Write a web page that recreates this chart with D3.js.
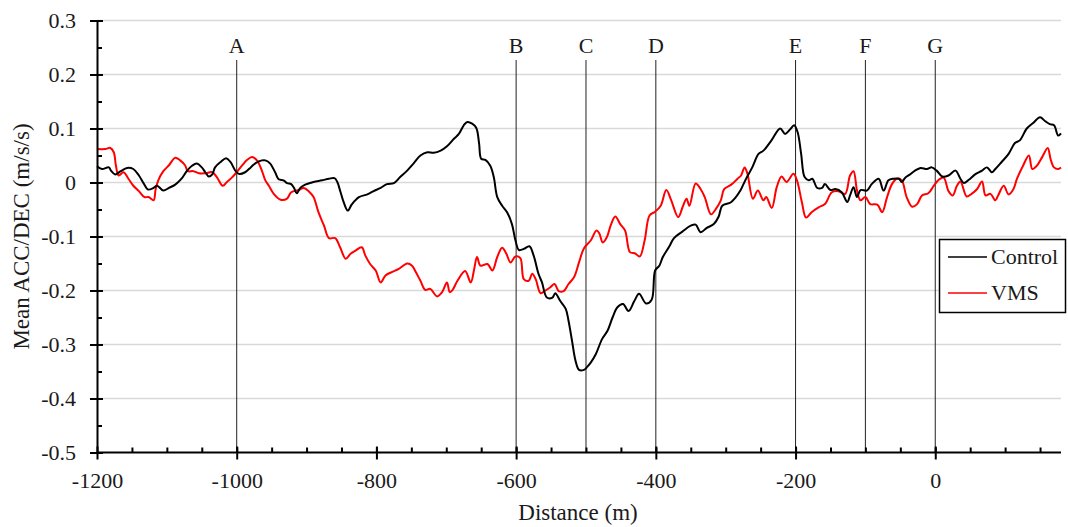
<!DOCTYPE html>
<html>
<head>
<meta charset="utf-8">
<script src="https://cdn.jsdelivr.net/npm/d3@7"></script>
<style>
  html, body { margin: 0; padding: 0; background: #fff; }
  svg text { font-family: "Liberation Serif", "Times New Roman", serif; fill: #1a1a1a; }
</style>
</head>
<body>
<svg id="chart" width="1068" height="527"></svg>
<script>
// ---------------- DATA ----------------
const controlDist = [-1200,-1193,-1183,-1180,-1174,-1166,-1157,-1148,-1140,-1133,-1127,-1119,-1114,-1105,-1097,-1088,-1079,-1071,-1064,-1057,-1050,-1045,-1040,-1035,-1031,-1023,-1015,-1009,-1002,-997,-988,-980,-973,-964,-959,-952,-945,-940,-933,-928,-922,-918,-914,-909,-902,-890,-878,-868,-860,-856,-852,-847,-841,-835,-825,-813,-804,-794,-785,-775,-766,-756,-747,-737,-727,-718,-708,-699,-689,-682,-675,-670,-663,-657,-653,-650,-644,-637,-632,-627,-620,-613,-606,-601,-596,-589,-581,-575,-568,-563,-556,-548,-544,-537,-529,-525,-520,-515,-510,-503,-498,-493,-486,-477,-469,-462,-455,-447,-439,-431,-424,-414,-406,-401,-395,-390,-381,-374,-362,-350,-343,-336,-327,-317,-310,-305,-293,-286,-279,-272,-262,-253,-246,-234,-222,-215,-208,-202,-197,-192,-187,-181,-176,-169,-162,-158,-150,-143,-134,-126,-122,-117,-112,-107,-98,-91,-81,-74,-67,-60,-52,-48,-43,-36,-29,-21,-12,-5,2,10,19,29,36,41,48,57,67,74,81,86,95,105,114,121,131,140,150,157,164,170,176,180];
const controlVal = [0.030,0.025,0.028,0.022,0.015,0.021,0.027,0.025,0.013,-0.002,-0.013,-0.010,-0.006,-0.015,-0.010,-0.004,0.007,0.022,0.031,0.035,0.028,0.019,0.011,0.015,0.028,0.038,0.045,0.038,0.022,0.016,0.019,0.028,0.036,0.041,0.041,0.035,0.019,0.006,0.004,-0.001,-0.003,-0.010,-0.020,-0.010,-0.004,0.001,0.004,0.007,0.008,0.001,-0.015,-0.036,-0.052,-0.040,-0.027,-0.022,-0.016,-0.010,-0.003,-0.001,0.010,0.022,0.035,0.050,0.056,0.055,0.059,0.067,0.081,0.090,0.106,0.112,0.109,0.101,0.072,0.044,0.042,0.031,0.010,-0.027,-0.043,-0.055,-0.077,-0.107,-0.125,-0.123,-0.118,-0.135,-0.169,-0.185,-0.213,-0.213,-0.205,-0.219,-0.234,-0.256,-0.293,-0.330,-0.347,-0.347,-0.341,-0.333,-0.318,-0.290,-0.274,-0.250,-0.231,-0.225,-0.238,-0.220,-0.206,-0.224,-0.217,-0.163,-0.154,-0.138,-0.119,-0.103,-0.091,-0.080,-0.078,-0.092,-0.084,-0.077,-0.063,-0.043,-0.037,-0.028,-0.015,0.004,0.028,0.053,0.059,0.079,0.100,0.090,0.098,0.106,0.093,0.053,0.010,0.004,0.007,-0.010,-0.010,-0.003,-0.014,-0.012,-0.018,-0.036,-0.024,-0.009,-0.027,-0.014,-0.015,-0.003,0.007,-0.015,0.004,0.007,0.007,0.001,0.009,0.015,0.022,0.027,0.025,0.028,0.022,0.011,0.013,0.022,0.007,-0.001,0.005,0.015,0.022,0.028,0.019,0.025,0.038,0.053,0.073,0.078,0.100,0.110,0.121,0.114,0.108,0.106,0.087,0.091];

const vmsDist = [-1200,-1188,-1181,-1176,-1173,-1169,-1162,-1155,-1148,-1140,-1132,-1126,-1119,-1116,-1112,-1105,-1097,-1088,-1081,-1074,-1070,-1062,-1054,-1045,-1035,-1028,-1020,-1014,-1007,-1000,-992,-985,-978,-971,-964,-959,-954,-947,-937,-928,-922,-911,-904,-897,-890,-883,-875,-868,-859,-852,-844,-837,-830,-821,-816,-809,-801,-794,-787,-778,-768,-756,-749,-744,-737,-730,-723,-713,-706,-699,-695,-691,-684,-673,-665,-660,-656,-651,-641,-634,-627,-620,-614,-608,-601,-594,-589,-582,-577,-572,-565,-558,-551,-545,-539,-532,-525,-517,-510,-503,-493,-485,-481,-476,-470,-464,-458,-451,-444,-437,-430,-423,-416,-409,-401,-393,-385,-378,-368,-361,-356,-352,-343,-336,-330,-321,-314,-307,-302,-292,-283,-278,-273,-269,-261,-254,-246,-242,-234,-227,-220,-213,-203,-198,-191,-185,-177,-167,-158,-148,-139,-129,-122,-117,-112,-107,-100,-93,-83,-76,-69,-62,-55,-48,-41,-33,-26,-19,-10,-2,5,12,19,25,31,36,45,52,60,67,72,79,86,90,98,105,112,117,126,134,139,146,153,161,165,170,176,180];
const vmsVal = [0.062,0.062,0.064,0.056,0.032,0.013,0.019,0.007,-0.006,-0.016,-0.027,-0.027,-0.033,-0.012,0.005,0.021,0.032,0.046,0.041,0.032,0.021,0.021,0.017,0.017,0.019,0.009,-0.006,0.001,0.009,0.019,0.032,0.042,0.047,0.041,0.022,0.004,-0.006,-0.021,-0.032,-0.030,-0.018,-0.014,-0.010,-0.016,-0.027,-0.055,-0.080,-0.103,-0.103,-0.120,-0.141,-0.132,-0.126,-0.120,-0.135,-0.151,-0.163,-0.185,-0.172,-0.166,-0.160,-0.150,-0.154,-0.165,-0.182,-0.199,-0.197,-0.211,-0.203,-0.185,-0.203,-0.199,-0.182,-0.164,-0.185,-0.160,-0.138,-0.154,-0.151,-0.163,-0.138,-0.121,-0.132,-0.148,-0.137,-0.140,-0.179,-0.182,-0.169,-0.179,-0.205,-0.200,-0.194,-0.188,-0.201,-0.201,-0.188,-0.175,-0.148,-0.122,-0.107,-0.089,-0.094,-0.111,-0.101,-0.077,-0.063,-0.077,-0.089,-0.129,-0.131,-0.137,-0.107,-0.061,-0.054,-0.043,-0.014,-0.033,-0.064,-0.043,-0.030,-0.043,-0.002,-0.012,-0.027,-0.059,-0.049,-0.033,-0.012,-0.004,0.007,0.013,0.028,0.017,-0.030,-0.015,-0.033,-0.027,-0.047,-0.009,0.011,0.001,0.016,0.004,-0.036,-0.065,-0.055,-0.046,-0.040,-0.018,-0.016,-0.021,0.013,0.021,-0.015,-0.033,-0.027,-0.040,-0.041,-0.055,-0.027,-0.003,0.007,0.004,-0.027,-0.045,-0.040,-0.024,-0.020,-0.006,0.005,0.009,-0.016,-0.024,-0.006,0.002,-0.026,-0.021,-0.012,0.002,-0.024,-0.021,-0.033,-0.024,-0.006,-0.022,-0.012,0.007,0.032,0.050,0.025,0.032,0.047,0.064,0.044,0.028,0.025,0.028];

const seriesNames = ["Control", "VMS"];
const seriesColors = ["#000000", "#ff0000"];

const markerLabels = ["A", "B", "C", "D", "E", "F", "G"];
const markerDist = [-1000, -600, -500, -400, -200, -100, 0];

const xTicks = [-1200, -1000, -800, -600, -400, -200, 0];
const xMinorTicks = [-1150,-1100,-1050,-1000,-950,-900,-850,-800,-750,-700,-650,-600,-550,-500,-450,-400,-350,-300,-250,-200,-150,-100,-50,0,50,100,150];
const yTicks = [0.3, 0.2, 0.1, 0, -0.1, -0.2, -0.3, -0.4, -0.5];
const yMinorTicks = [0.25, 0.15, 0.05, -0.05, -0.15, -0.25, -0.35, -0.45];

const xTitle = "Distance (m)";
const yTitle = "Mean ACC/DEC (m/s/s)";

// ---------------- LAYOUT ----------------
const plotLeft = 97, plotRight = 1061, plotTop = 20.5, plotBottom = 452.5;
const FONT = "Liberation Serif, Times New Roman, serif";
const svg = d3.select("#chart");

const x = d3.scaleLinear().domain([-1200, 180]).range([plotLeft, plotRight]);
const y = d3.scaleLinear().domain([-0.5, 0.3]).range([plotBottom, plotTop]);

// gridlines
svg.append("g").selectAll("line").data(yTicks.filter(v => v !== -0.5)).join("line")
  .attr("x1", plotLeft).attr("x2", plotRight)
  .attr("y1", d => y(d)).attr("y2", d => y(d))
  .attr("stroke", "#d9d9d9").attr("stroke-width", 1.5);

// marker lines
const mk = svg.append("g");
mk.selectAll("line").data(markerDist).join("line")
  .attr("x1", d => x(d)).attr("x2", d => x(d))
  .attr("y1", 60).attr("y2", plotBottom)
  .attr("stroke", "#222").attr("stroke-width", 1);
mk.selectAll("text").data(markerLabels).join("text")
  .attr("x", (d, i) => x(markerDist[i]))
  .attr("y", 53)
  .attr("text-anchor", "middle")
  .attr("font-size", 22)
  .text(d => d);

// series
const line = d3.line().x(d => x(d[0])).y(d => y(d[1])).curve(d3.curveCatmullRom.alpha(0.5));
const controlData = controlDist.map((d, i) => [d, controlVal[i]]);
const vmsData = vmsDist.map((d, i) => [d, vmsVal[i]]);
[[vmsData, 1], [controlData, 0]].forEach(([data, idx]) => {
  svg.append("path").datum(data)
    .attr("d", line)
    .attr("fill", "none")
    .attr("stroke", seriesColors[idx])
    .attr("stroke-width", 2)
    .attr("stroke-linejoin", "round");
});

// y axis
const yAxis = svg.append("g").attr("transform", `translate(${plotLeft},0)`)
  .call(d3.axisLeft(y).tickValues(yTicks).tickSize(7).tickPadding(14)
        .tickFormat(d => String(+d.toFixed(1))));
yAxis.attr("font-family", FONT);
yAxis.select(".domain").attr("stroke", "#000").attr("stroke-width", 2);
yAxis.selectAll(".tick line").attr("x1", -7).attr("x2", 6).attr("stroke", "#000").attr("stroke-width", 2);
yAxis.selectAll(".tick text").attr("font-size", 22).attr("fill", "#1a1a1a");
const yMin = svg.append("g").attr("transform", `translate(${plotLeft},0)`)
  .call(d3.axisRight(y).tickValues(yMinorTicks).tickSize(5).tickFormat(""));
yMin.select(".domain").remove();
yMin.selectAll(".tick line").attr("stroke", "#000").attr("stroke-width", 2);

// x axis
const xAxis = svg.append("g").attr("transform", `translate(0,${plotBottom})`)
  .call(d3.axisBottom(x).tickValues(xTicks).tickSize(7).tickPadding(13)
        .tickFormat(d => String(d)));
xAxis.attr("font-family", FONT);
xAxis.select(".domain").attr("d", `M${plotLeft},0H${plotRight}`).attr("stroke", "#000").attr("stroke-width", 2);
xAxis.selectAll(".tick line").attr("y1", -6).attr("y2", 7).attr("stroke", "#000").attr("stroke-width", 2);
xAxis.selectAll(".tick text").attr("font-size", 22).attr("fill", "#1a1a1a");
const xMin = svg.append("g").attr("transform", `translate(0,${plotBottom})`)
  .call(d3.axisTop(x).tickValues(xMinorTicks).tickSize(5).tickFormat(""));
xMin.select(".domain").remove();
xMin.selectAll(".tick line").attr("stroke", "#000").attr("stroke-width", 2);

// axis titles
svg.append("text").attr("x", 578).attr("y", 520).attr("text-anchor", "middle")
  .attr("font-size", 23).text(xTitle);
svg.append("text").attr("transform", `translate(29,${(plotTop + plotBottom) / 2}) rotate(-90)`)
  .attr("text-anchor", "middle").attr("font-size", 23).text(yTitle);

// legend
const lg = svg.append("g");
lg.append("rect").attr("x", 939.5).attr("y", 239.5).attr("width", 126).attr("height", 73)
  .attr("fill", "#fff").attr("stroke", "#000").attr("stroke-width", 1.5);
seriesNames.forEach((name, i) => {
  const yy = 257 + i * 36;
  lg.append("line").attr("x1", 948).attr("x2", 987).attr("y1", yy).attr("y2", yy)
    .attr("stroke", seriesColors[i]).attr("stroke-width", 1.5);
  lg.append("text").attr("x", 991).attr("y", yy + 7).attr("font-size", 22).text(name);
});
</script>
</body>
</html>
